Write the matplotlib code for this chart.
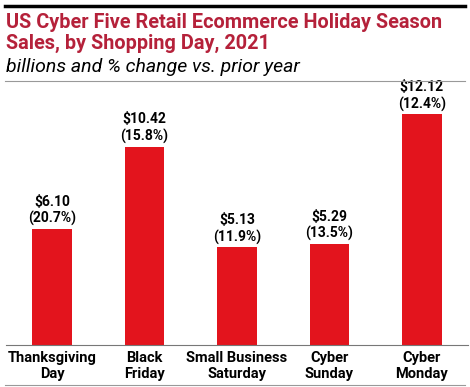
import matplotlib.pyplot as plt
from matplotlib.lines import Line2D

days = ['Thanksgiving\nDay', 'Black\nFriday', 'Small Business\nSaturday', 'Cyber\nSunday', 'Cyber\nMonday']
sales = [6.10, 10.42, 5.13, 5.29, 12.12]
change = [20.7, 15.8, 11.9, 13.5, 12.4]

W, H = 470, 387
fig = plt.figure(figsize=(W / 100, H / 100), dpi=100)
plt.rcParams['font.family'] = ['Roboto', 'DejaVu Sans']

# frame lines
fig.add_artist(Line2D([5 / W, 465 / W], [1 - 6 / H, 1 - 6 / H], color='black', lw=2.5))
fig.add_artist(Line2D([5 / W, 465 / W], [1 - 81 / H, 1 - 81 / H], color='#999999', lw=0.8))
fig.add_artist(Line2D([5 / W, 465 / W], [1 - 385 / H, 1 - 385 / H], color='#999999', lw=0.8))

fig.text(6 / W, 1 - 22 / H, 'US Cyber Five Retail Ecommerce Holiday Season', color='#b5213a',
         fontsize=14.3, fontweight='bold', va='center')
fig.text(6 / W, 1 - 43 / H, 'Sales, by Shopping Day, 2021', color='#b5213a',
         fontsize=14.3, fontweight='bold', va='center')
fig.text(6 / W, 1 - 67 / H, 'billions and % change vs. prior year', color='black',
         fontsize=14, style='italic', va='center')

ax = fig.add_axes([6 / W, 1 - 345 / H, 462 / W, 255 / H])
x = range(len(days))
bars = ax.bar(x, sales, width=0.43, color='#e3141d')
for xi, v, c in zip(x, sales, change):
    ax.text(xi, v + 0.15, f'${v:.2f}\n({c}%)', ha='center', va='bottom',
            fontsize=10, fontweight='bold', linespacing=1.2)

ax.set_xlim(-0.5, 4.5)
ax.set_ylim(0, 13.4)
ax.set_yticks([])
ax.set_xticks(list(x))
ax.set_xticklabels(days, fontsize=10.5, fontweight='bold', linespacing=1.2)
ax.tick_params(axis='x', length=0, pad=4)
for s in ['top', 'right', 'left']:
    ax.spines[s].set_visible(False)
ax.spines['bottom'].set_color('#777777')
ax.spines['bottom'].set_linewidth(0.8)

fig.savefig('out.png', dpi=100)
